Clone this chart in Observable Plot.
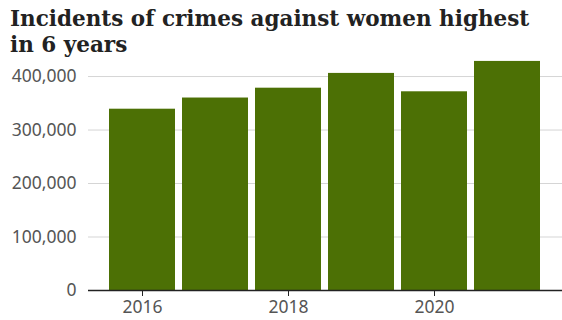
<!DOCTYPE html>
<html><head><meta charset="utf-8">
<script src="https://cdn.jsdelivr.net/npm/d3@7"></script>
<script src="https://cdn.jsdelivr.net/npm/@observablehq/plot@0.6"></script>
<style>
body{margin:0;background:#fff;width:562px;height:320px;overflow:hidden}
#title{font-family:"DejaVu Serif";font-weight:bold;font-size:21.5px;line-height:26px;color:#222;padding:6px 0 0 10px;height:54px;width:535px;box-sizing:content-box}
#chart svg{display:block}
</style></head><body>
<div id="title">Incidents of crimes against women highest in 6 years</div>
<div id="chart"></div>
<script>
const years = [2016, 2017, 2018, 2019, 2020, 2021];
const incidents = [338954, 359849, 378236, 405861, 371503, 428278];
const yTicks = [0, 100000, 200000, 300000, 400000];
const xTicks = [2016, 2018, 2020];

const data = years.map((y, i) => ({year: y, value: incidents[i]}));

const chart = Plot.plot({
  width: 562,
  height: 260,
  marginLeft: 88,
  marginRight: 0,
  marginTop: 0,
  marginBottom: 30,
  style: {fontFamily: "'Noto Sans', sans-serif", fontSize: "17.5px", color: "#555", background: "#fff"},
  x: {type: "band", domain: years, paddingInner: 0.09, paddingOuter: 0.29, label: null},
  y: {domain: [0, 430000], label: null},
  marks: [
    Plot.gridY(yTicks.slice(1), {stroke: "#d5d5d5", strokeOpacity: 1}),
    Plot.barY(data, {x: "year", y: "value", fill: "#4c7005"}),
    Plot.ruleY([0], {stroke: "#222", strokeWidth: 1.5}),
    Plot.axisY(yTicks, {tickSize: 0, tickPadding: 12, tickFormat: d3.format(","), fill: "#555", label: null}),
    Plot.axisX(xTicks, {tickSize: 6, tickPadding: 4, stroke: "#222", fill: "#555", tickFormat: d => String(d), label: null})
  ]
});
document.getElementById("chart").appendChild(chart);
</script>
</body></html>
